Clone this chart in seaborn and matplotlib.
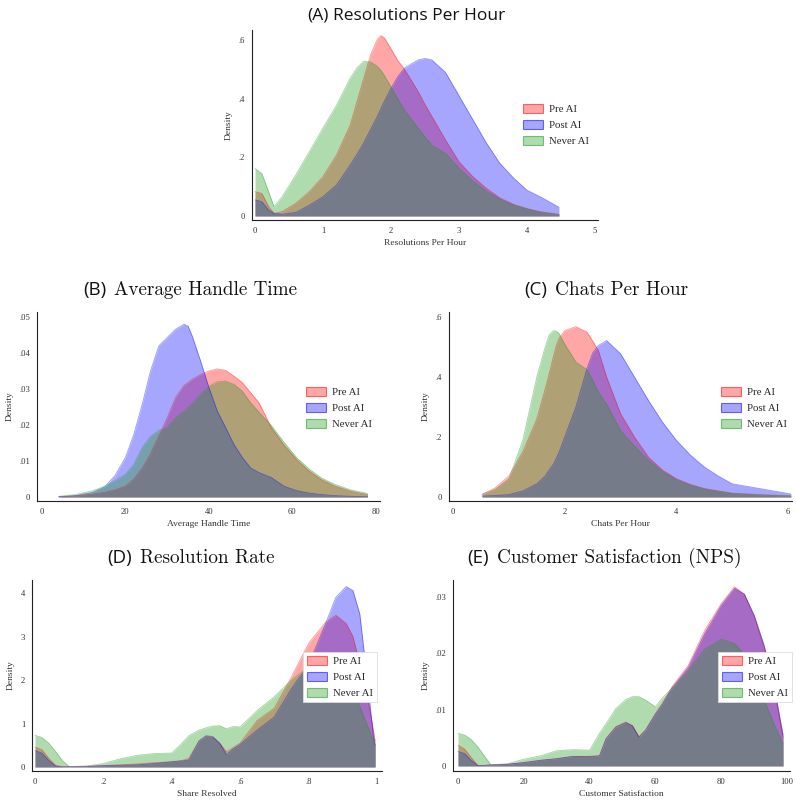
import numpy as np
import seaborn as sns
import matplotlib.pyplot as plt
from matplotlib.patches import Patch
from matplotlib.colors import to_rgba

# ---- (A) Resolutions per hour ----
a_x = [0, .1, .2, .28, .4, .6, .8, 1.0, 1.2, 1.4, 1.5, 1.6, 1.7, 1.8, 1.85, 1.9, 2.0, 2.1, 2.2, 2.4, 2.5,
       2.6, 2.8, 3.0, 3.2, 3.4, 3.6, 3.8, 4.0, 4.2, 4.47]
a_pre = [.083, .077, .032, .009, .015, .043, .083, .134, .208, .31, .39, .47, .55, .603, .615, .608, .57, .53, .50,
         .424, .38, .34, .26, .185, .135, .095, .062, .04, .025, .014, .005]
a_post = [.055, .049, .02, .009, .006, .012, .037, .066, .106, .174, .21, .25, .295, .34, .365, .39, .435, .475, .505,
          .532, .537, .532, .49, .41, .33, .25, .18, .13, .088, .065, .03]
a_never = [.162, .145, .083, .032, .066, .14, .22, .30, .378, .47, .505, .528, .525, .51, .497, .48, .44, .40, .36,
           .30, .27, .242, .214, .163, .12, .085, .058, .038, .025, .014, .006]

# ---- (B) Average handle time ----
b_x = [4, 8, 12, 15, 17.5, 20, 22, 24, 26, 28, 30, 32, 34, 35, 36, 38, 40, 42, 44, 46, 48, 50, 52, 55, 58,
       61, 64, 67, 70, 74, 78]
b_pre = [.0001, .0003, .0008, .0013, .002, .003, .005, .008, .012, .017, .022, .0276, .031, .0318, .0327, .034, .035,
         .0356, .0352, .0336, .0318, .029, .0262, .0192, .0144, .0104, .0072, .0048, .0031, .0016, .0007]
b_post = [.0001, .0004, .0012, .0028, .006, .011, .0174, .0257, .035, .042, .0443, .0466, .048, .0475, .0447, .0378,
          .0304, .0239, .0193, .0146, .011, .0081, .0068, .0054, .003, .0018, .0011, .0007, .0004, .0002, .0001]
b_never = [.0002, .0007, .0017, .003, .0045, .0063, .009, .0137, .0168, .0185, .0193, .022, .0238, .0248, .026, .0285,
           .0308, .032, .0322, .0313, .0294, .0262, .0236, .0198, .0152, .011, .0078, .0053, .0036, .002, .001]

# ---- (C) Chats per hour ----
c_x = [.52, .75, 1.0, 1.25, 1.5, 1.65, 1.72, 1.8, 1.85, 1.9, 2.0, 2.2, 2.4, 2.5, 2.6, 2.75, 3.0, 3.25, 3.5, 3.75,
       4.0, 4.25, 4.5, 4.75, 5.0, 5.5, 6.05]
c_pre = [.008, .03, .07, .15, .26, .36, .41, .47, .505, .53, .555, .568, .55, .52, .49, .40, .278, .2, .133, .09,
         .061, .042, .028, .02, .012, .007, .003]
c_post = [.003, .005, .008, .02, .044, .07, .09, .11, .13, .15, .2, .3, .43, .48, .505, .522, .478, .40, .322, .25,
          .189, .14, .1, .07, .044, .028, .01]
c_never = [.01, .025, .06, .19, .40, .50, .54, .555, .553, .545, .51, .45, .425, .39, .35, .31, .222, .17, .122, .085,
           .058, .04, .028, .02, .013, .008, .004]

# ---- (D) Resolution rate ----
d_x = [0, .02, .04, .06, .08, .1, .15, .2, .25, .3, .35, .4, .43, .45, .48, .5, .52, .54, .56, .58, .6, .65, .7,
       .75, .8, .85, .88, .91, .93, .95, .97, .99, .995]
d_pre = [.46, .4, .2, .04, .01, .01, .02, .03, .05, .07, .1, .12, .15, .2, .6, .7, .68, .55, .35, .45, .55, 1.07, 1.35,
         2.07, 2.84, 3.33, 3.49, 3.3, 3.0, 2.38, 1.7, .84, .6]
d_post = [.38, .32, .15, .02, 0, .005, .01, .03, .04, .05, .08, .12, .14, .16, .6, .72, .7, .55, .28, .42, .52, .85,
          1.15, 1.8, 2.35, 3.3, 3.9, 4.15, 4.06, 3.52, 2.15, .7, .5]
d_never = [.73, .68, .55, .36, .15, .01, .02, .08, .19, .27, .31, .32, .55, .72, .85, .9, .94, .95, .88, .93, .92, 1.3,
           1.62, 2.0, 2.3, 2.38, 2.2, 1.95, 1.7, 1.4, 1.0, .6, .5]

# ---- (E) Customer satisfaction ----
e_x = [0, 2, 4, 6, 8, 10, 15, 20, 25, 30, 35, 40, 43, 45, 48, 51, 53, 55, 57, 60, 62, 65, 70, 75, 80, 84, 87, 90,
       93, 96, 98.8]
e_pre = [.0037, .003, .0015, .0001, .0001, .0002, .0003, .0006, .001, .0013, .0017, .0017, .0018, .0049, .007, .0078,
         .0072, .0052, .0064, .0093, .011, .014, .0179, .0241, .0288, .0318, .0305, .0265, .0211, .014, .005]
e_post = [.0026, .0022, .001, .0001, .0001, .0002, .0003, .0006, .001, .0013, .0017, .0017, .0018, .0048, .0069, .0077,
          .0071, .0051, .0063, .0092, .0108, .0138, .0175, .0235, .0285, .0315, .0305, .0268, .0215, .0145, .0055]
e_never = [.0058, .0055, .0047, .0034, .0018, .0002, .0004, .0012, .0018, .0027, .0029, .0028, .0058, .0075, .0102,
           .0118, .0123, .0123, .0117, .0105, .012, .0138, .017, .0208, .0225, .0218, .0198, .0158, .0118, .0075, .004]

groups = ['Pre AI', 'Post AI', 'Never AI']
colors = ['#ff0000', '#0000ff', '#1a991a']
ALPHA = 0.35

sns.set_style("white")
plt.rcParams['font.family'] = ['Liberation Serif', 'DejaVu Serif']

W, H = 796, 801
fig = plt.figure(figsize=(W / 100, H / 100), dpi=100)


def px_axes(left, top, right, bottom):
    return fig.add_axes([left / W, 1 - bottom / H, (right - left) / W, (bottom - top) / H])


def draw_panel(ax, x, curves, xlim, ylim, xticks, xtl, yticks, ytl, xlabel, leg_xy, boxed):
    for y, c in zip(curves, colors):
        ax.fill_between(x, y, 0, color=c, alpha=ALPHA, lw=0)
        sns.lineplot(x=x, y=y, color=c, alpha=0.4, lw=0.6, ax=ax, sort=False)
    ax.set_xlim(*xlim)
    ax.set_ylim(*ylim)
    ax.set_xticks(xticks, xtl)
    ax.set_yticks(yticks, ytl)
    ax.tick_params(direction='out', length=3, width=0.6, labelsize=6.2, colors='#333333', pad=2)
    for s in ['top', 'right']:
        ax.spines[s].set_visible(False)
    for s in ['left', 'bottom']:
        ax.spines[s].set_color('#222222')
        ax.spines[s].set_linewidth(0.8)
    ax.set_xlabel(xlabel, fontsize=6.8, color='#333333', labelpad=3)
    ax.set_ylabel('Density', fontsize=6.8, color='#333333', labelpad=4)
    handles = [Patch(facecolor=to_rgba(c, ALPHA), edgecolor=to_rgba(c, 0.55), lw=0.8) for c in colors]
    leg = ax.legend(handles, groups, loc='upper left', bbox_to_anchor=(leg_xy[0] / W, 1 - leg_xy[1] / H),
                    bbox_transform=fig.transFigure, frameon=boxed, fontsize=7.8, handlelength=1.9,
                    handleheight=0.9, handletextpad=0.5, labelspacing=0.55, borderpad=0.35, borderaxespad=0,
                    fancybox=False)
    if boxed:
        leg.get_frame().set_edgecolor('#dddddd')
        leg.get_frame().set_linewidth(0.6)
        leg.get_frame().set_alpha(1)


def title(left, y, tag, rest, rest_font, size_tag, size_rest, gap):
    t = fig.text(left / W, 1 - y / H, tag, family='Open Sans', fontsize=size_tag, va='center', ha='left',
                 color='#111111')
    fig.canvas.draw()
    bb = t.get_window_extent()
    fig.text((bb.x1 + gap) / W, 1 - y / H, rest, family=rest_font, fontsize=size_rest, va='center', ha='left',
             color='#111111')


ax_a = px_axes(252, 30, 598, 220)
draw_panel(ax_a, a_x, [a_pre, a_post, a_never], (-0.044, 5.044), (-0.0136, 0.634),
           [0, 1, 2, 3, 4, 5], ['0', '1', '2', '3', '4', '5'], [0, .2, .4, .6], ['0', '.2', '.4', '.6'],
           'Resolutions Per Hour', (519, 100), False)

ax_b = px_axes(37, 312, 380, 501)
draw_panel(ax_b, b_x, [b_pre, b_post, b_never], (-1.2, 81.0), (-0.0011, 0.0514),
           [0, 20, 40, 60, 80], ['0', '20', '40', '60', '80'], [0, .01, .02, .03, .04, .05],
           ['0', '.01', '.02', '.03', '.04', '.05'], 'Average Handle Time', (302, 383), False)

ax_c = px_axes(449, 312, 792, 501)
draw_panel(ax_c, c_x, [c_pre, c_post, c_never], (-0.072, 6.07), (-0.0133, 0.617),
           [0, 2, 4, 6], ['0', '2', '4', '6'], [0, .2, .4, .6], ['0', '.2', '.4', '.6'],
           'Chats Per Hour', (717, 383), False)

ax_d = px_axes(32, 580, 382, 771)
draw_panel(ax_d, d_x, [d_pre, d_post, d_never], (-0.0088, 1.015), (-0.092, 4.3),
           [0, .2, .4, .6, .8, 1], ['0', '.2', '.4', '.6', '.8', '1'], [0, 1, 2, 3, 4], ['0', '1', '2', '3', '4'],
           'Share Resolved', (303, 652), True)

ax_e = px_axes(453, 580, 790, 771)
draw_panel(ax_e, e_x, [e_pre, e_post, e_never], (-1.52, 100.9), (-0.00089, 0.033),
           [0, 20, 40, 60, 80, 100], ['0', '20', '40', '60', '80', '100'], [0, .01, .02, .03],
           ['0', '.01', '.02', '.03'], 'Customer Satisfaction', (718, 652), True)

title(307, 16, '(A)', 'Resolutions Per Hour', 'Open Sans', 12.5, 12.5, 5)
title(83, 290, '(B)', 'Average Handle Time', 'cmr10', 13.5, 13.8, 8)
title(524, 290, '(C)', 'Chats Per Hour', 'cmr10', 13.5, 13.8, 8)
title(107, 558, '(D)', 'Resolution Rate', 'cmr10', 13.5, 13.8, 8)
title(467, 558, '(E)', 'Customer Satisfaction (NPS)', 'cmr10', 13.5, 13.8, 8)

fig.savefig('out.png', dpi=100)
